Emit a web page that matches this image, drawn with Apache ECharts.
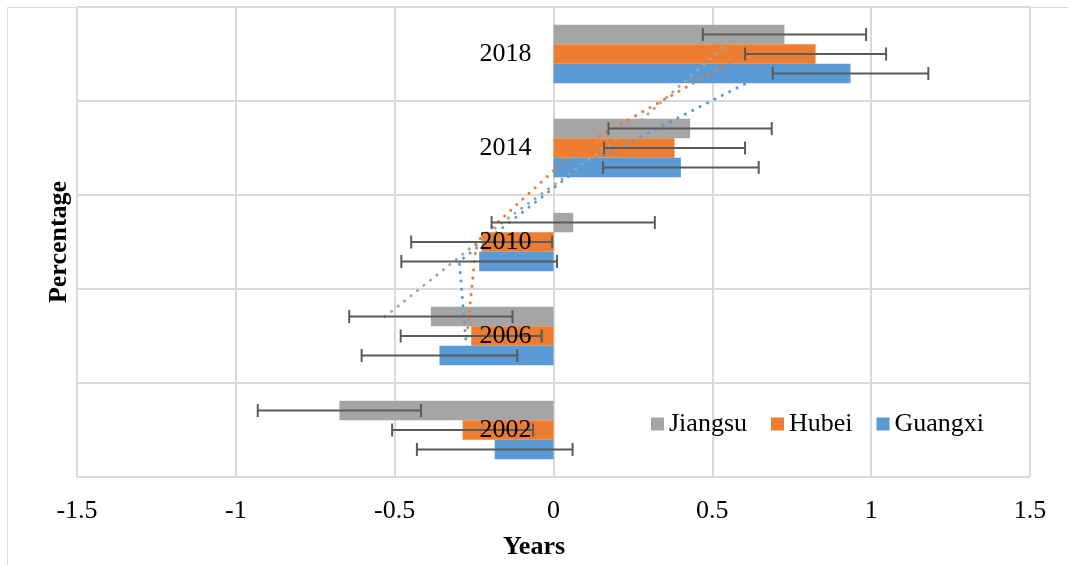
<!DOCTYPE html>
<html>
<head>
<meta charset="utf-8">
<script src="https://cdn.jsdelivr.net/npm/echarts@6/dist/echarts.min.js"></script>
<style>
  html, body { margin: 0; padding: 0; background: #fff; }
  #chart { width: 1068px; height: 565px; }
</style>
</head>
<body>
<div id="chart"></div>
<script>
// ---- data ----
const categories = ['2002', '2006', '2010', '2014', '2018'];
const seriesNames = ['Jiangsu', 'Hubei', 'Guangxi'];
const jiangsu = [-0.674, -0.386, 0.062, 0.430, 0.727];
const hubei   = [-0.286, -0.259, -0.226, 0.381, 0.825];
const guangxi = [-0.185, -0.359, -0.234, 0.401, 0.935];
const jiangsuErr = [0.257, 0.257, 0.257, 0.257, 0.257];
const hubeiErr   = [0.222, 0.222, 0.222, 0.222, 0.222];
const guangxiErr = [0.245, 0.245, 0.245, 0.245, 0.245];
const xTicks = [-1.5, -1, -0.5, 0, 0.5, 1, 1.5];

// ---- styling ----
const colors = ['#A5A5A5', '#ED7D31', '#5B9BD5'];
const FONT = 'Liberation Serif';
const gapFrac = 0.38;                 // barCategoryGap
const barFrac = (1 - gapFrac) / 3;    // one bar's share of a band
const offsets = [barFrac, 0, -barFrac]; // first series on top

const values = [jiangsu, hubei, guangxi];
const errs = [jiangsuErr, hubeiErr, guangxiErr];

// Excel "2 period moving average" trendline
function movingAvg2(arr) {
  const out = [];
  for (let i = 1; i < arr.length; i++) out.push([(arr[i - 1] + arr[i]) / 2, i]);
  return out;
}

const series = [];
values.forEach((vals, s) => {
  series.push({
    name: seriesNames[s], type: 'bar', xAxisIndex: 0, yAxisIndex: 0,
    data: vals, barGap: '0%', barCategoryGap: (gapFrac * 100) + '%',
    itemStyle: { color: colors[s] }, z: 2
  });
});
values.forEach((vals, s) => {
  series.push({
    name: seriesNames[s] + ' trend', type: 'line', xAxisIndex: 0, yAxisIndex: 1,
    data: movingAvg2(vals).map(p => [p[0], p[1] + 0.5 + offsets[s]]),
    symbol: 'none', silent: true, z: 4,
    lineStyle: { color: colors[s], width: 3, type: [0.1, 8.2], cap: 'round' }
  });
});
values.forEach((vals, s) => {
  series.push({
    name: seriesNames[s] + ' err', type: 'custom', xAxisIndex: 0, yAxisIndex: 1,
    data: vals.map((v, i) => [v, errs[s][i], i + 0.5 + offsets[s]]),
    encode: { x: 0, y: 2 }, z: 5, silent: true,
    renderItem: function (params, api) {
      const v = api.value(0), e = api.value(1), y = api.value(2);
      const a = api.coord([v - e, y]);
      const b = api.coord([v + e, y]);
      const h = 6.5;
      const st = { stroke: '#5A5A5A', lineWidth: 2 };
      return {
        type: 'group', children: [
          { type: 'line', shape: { x1: a[0], y1: a[1], x2: b[0], y2: b[1] }, style: st },
          { type: 'line', shape: { x1: a[0], y1: a[1] - h, x2: a[0], y2: a[1] + h }, style: st },
          { type: 'line', shape: { x1: b[0], y1: b[1] - h, x2: b[0], y2: b[1] + h }, style: st }
        ]
      };
    }
  });
});
// category labels sitting at the vertical axis crossing x = 0
series.push({
  name: 'catLabels', type: 'custom', xAxisIndex: 0, yAxisIndex: 0,
  data: categories.map((c, i) => [0, i]),
  encode: { x: 0, y: 1 }, z: 6, silent: true,
  renderItem: function (params, api) {
    const p = api.coord([api.value(0), api.value(1)]);
    return {
      type: 'text', x: p[0] - 22, y: p[1],
      style: { text: categories[params.dataIndex], font: '26px "Liberation Serif"',
               fill: '#000', align: 'right', verticalAlign: 'middle' }
    };
  }
});

const chart = echarts.init(document.getElementById('chart'), null, { renderer: 'canvas' });
chart.setOption({
  backgroundColor: '#fff',
  animation: false,
  textStyle: { fontFamily: FONT },
  grid: { left: 77, right: 38, top: 7, bottom: 88, containLabel: false },
  legend: {
    data: seriesNames, left: 646, top: 406, itemGap: 24,
    itemWidth: 13, itemHeight: 13, icon: 'rect',
    textStyle: { fontFamily: FONT, fontSize: 26, color: '#000' }
  },
  xAxis: {
    type: 'value', min: xTicks[0], max: xTicks[xTicks.length - 1], interval: 0.5,
    axisLine: { show: false }, axisTick: { show: false },
    splitLine: { show: true, lineStyle: { color: '#D9D9D9', width: 2 } },
    axisLabel: { margin: 21, fontFamily: FONT, fontSize: 26, color: '#000' }
  },
  yAxis: [
    {
      type: 'category', data: categories,
      axisLine: { show: false }, axisTick: { show: false }, splitLine: { show: false },
      axisLabel: { show: false }
    },
    {
      type: 'value', min: 0, max: categories.length, interval: 1, position: 'left',
      axisLine: { show: false }, axisTick: { show: false }, axisLabel: { show: false },
      splitLine: { show: true, lineStyle: { color: '#D9D9D9', width: 2 } }
    }
  ],
  graphic: [
    { type: 'rect', silent: true, z: -1, shape: { x: 7.5, y: 7.5, width: 1200, height: 700 },
      style: { fill: null, stroke: '#D9D9D9', lineWidth: 1 } },
    { type: 'text', left: 'center', x: 0, top: 534, silent: true,
      style: { text: 'Years', font: 'bold 26px "Liberation Serif"', fill: '#000' } },
    { type: 'text', silent: true, x: 59, y: 242, rotation: Math.PI / 2,
      style: { text: 'Percentage', font: 'bold 26px "Liberation Serif"', fill: '#000',
               align: 'center', verticalAlign: 'middle' } }
  ],
  series: series
});
</script>
</body>
</html>
